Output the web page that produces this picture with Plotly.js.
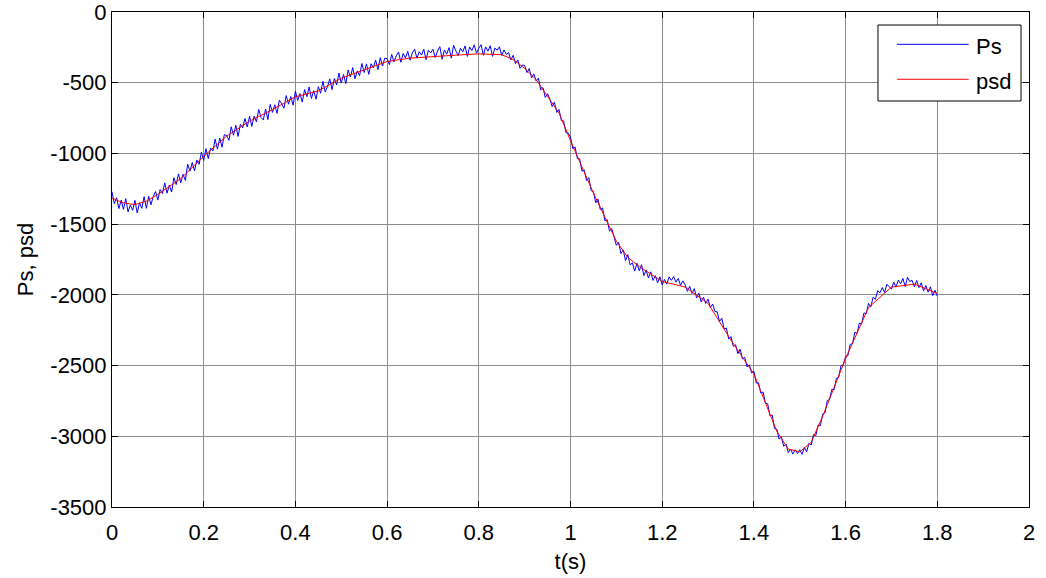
<!DOCTYPE html>
<html>
<head>
<meta charset="utf-8">
<script src="https://cdn.plot.ly/plotly-3.0.1.min.js"></script>
<style>html,body{margin:0;padding:0;background:#fff;}#chart{width:1046px;height:578px;}</style>
</head>
<body>
<div id="chart"></div>
<script>
// Ps: measured signal, sampled every 0.005 s from t = 0 to t = 1.8
const psStart = 0;
const psStep = 0.005;
const psValues = [
  -1271, -1355, -1313, -1390, -1331, -1396, -1320, -1413, -1365, -1402, -1332, -1421, -1348, -1388, -1306, -1388, -1303, -1363, -1303, -1269,
  -1330, -1255, -1284, -1208, -1281, -1225, -1273, -1172, -1220, -1144, -1208, -1147, -1191, -1076, -1125, -1064, -1123, -1047, -1077, -991,
  -1050, -966, -1037, -962, -983, -899, -970, -891, -956, -867, -873, -907, -812, -871, -801, -880, -794, -819, -753, -813,
  -737, -809, -736, -777, -689, -746, -763, -685, -761, -653, -710, -656, -717, -623, -649, -680, -591, -652, -598, -659,
  -560, -626, -577, -637, -548, -599, -530, -611, -556, -617, -528, -574, -490, -566, -527, -473, -549, -470, -516, -432,
  -503, -442, -506, -410, -459, -393, -472, -416, -450, -364, -428, -367, -441, -366, -395, -339, -408, -323, -382, -326,
  -330, -372, -300, -353, -310, -283, -355, -293, -325, -278, -341, -290, -263, -327, -281, -305, -263, -337, -271, -289,
  -263, -322, -276, -245, -334, -268, -298, -252, -326, -235, -275, -308, -257, -281, -240, -314, -248, -273, -232, -291,
  -256, -231, -306, -247, -277, -238, -314, -255, -270, -246, -307, -268, -300, -287, -339, -306, -365, -339, -398, -375,
  -378, -429, -400, -466, -437, -488, -467, -551, -535, -604, -578, -616, -669, -637, -710, -689, -767, -770, -853, -856,
  -885, -967, -954, -1036, -1038, -1125, -1117, -1194, -1171, -1263, -1270, -1349, -1323, -1397, -1386, -1475, -1469, -1548, -1532, -1596,
  -1650, -1629, -1708, -1682, -1759, -1715, -1788, -1774, -1832, -1777, -1830, -1787, -1864, -1825, -1881, -1837, -1898, -1864, -1914, -1872,
  -1930, -1890, -1924, -1873, -1897, -1871, -1910, -1884, -1933, -1901, -1930, -1975, -1940, -1990, -1956, -2022, -1988, -2050, -2017, -2061,
  -2030, -2090, -2065, -2117, -2120, -2188, -2165, -2240, -2236, -2313, -2295, -2364, -2353, -2416, -2384, -2453, -2442, -2510, -2494, -2552,
  -2540, -2623, -2621, -2694, -2687, -2765, -2770, -2855, -2850, -2945, -2950, -3020, -3005, -3070, -3055, -3115, -3090, -3126, -3095, -3122,
  -3095, -3128, -3080, -3110, -3050, -3062, -2987, -2995, -2920, -2925, -2843, -2835, -2748, -2740, -2668, -2671, -2589, -2582, -2500, -2495,
  -2435, -2430, -2350, -2345, -2265, -2272, -2200, -2205, -2128, -2133, -2060, -2085, -2017, -2032, -1970, -1985, -1948, -1983, -1925, -1942,
  -1960, -1910, -1945, -1895, -1922, -1884, -1942, -1876, -1906, -1897, -1944, -1898, -1949, -1915, -1972, -1934, -1981, -1943, -2005, -1967,
  -2010
];

// psd: reference (smooth) curve
const psdTime = [0, 0.025, 0.05, 0.075, 0.1, 0.15, 0.2, 0.25, 0.3, 0.35, 0.4, 0.45, 0.5, 0.55, 0.6, 0.65, 0.7, 0.75, 0.8, 0.85, 0.875, 0.9, 0.925, 0.95, 0.975, 1.0, 1.05, 1.1, 1.125, 1.15, 1.2, 1.25, 1.3, 1.35, 1.4, 1.45, 1.475, 1.5, 1.525, 1.55, 1.6, 1.65, 1.7, 1.75, 1.8];
const psdValues = [-1316, -1350, -1362, -1338, -1290, -1178, -1020, -878, -772, -690, -600, -558, -468, -408, -350, -326, -313, -305, -296, -302, -336, -398, -478, -598, -714, -910, -1280, -1620, -1735, -1800, -1905, -1945, -2060, -2320, -2560, -2965, -3090, -3110, -3042, -2858, -2450, -2090, -1945, -1924, -1990];

const seriesNames = ["Ps", "psd"];
const seriesColors = ["#0000ff", "#ff0000"];

const xTickVals = [0, 0.2, 0.4, 0.6, 0.8, 1, 1.2, 1.4, 1.6, 1.8, 2];
const xTickText = ["0", "0.2", "0.4", "0.6", "0.8", "1", "1.2", "1.4", "1.6", "1.8", "2"];
const yTickVals = [0, -500, -1000, -1500, -2000, -2500, -3000, -3500];
const yTickText = ["0", "-500", "-1000", "-1500", "-2000", "-2500", "-3000", "-3500"];

const psTime = psValues.map((_, i) => +(psStart + i * psStep).toFixed(4));

const FONT = "Liberation Sans, Arial, sans-serif";
const FS = 22;

const traces = [
  {x: psTime, y: psValues, type: 'scatter', mode: 'lines', name: seriesNames[0],
   line: {color: seriesColors[0], width: 1}},
  {x: psdTime, y: psdValues, type: 'scatter', mode: 'lines', name: seriesNames[1],
   line: {color: seriesColors[1], width: 1}}
];

const axisCommon = {
  showline: true, linecolor: '#000', linewidth: 1, mirror: 'ticks',
  ticks: 'inside', ticklen: 6, tickcolor: '#000', tickwidth: 1,
  showgrid: true, gridcolor: '#8c8c8c', gridwidth: 1, zeroline: false,
  ticklabeloverflow: 'allow',
  tickfont: {family: FONT, size: FS, color: '#000'}
};

// MATLAB-style legend box drawn in plot-area (paper) coordinates
const legBox = {x0: 0.8353, x1: 0.9913, y0: 0.8202, y1: 0.9737};
const legLineX = [0.8561, 0.9342];
const legLineY = [0.9347, 0.8641];
const legTextX = 0.9395;

const shapes = [
  {type: 'rect', xref: 'paper', yref: 'paper', x0: legBox.x0, x1: legBox.x1, y0: legBox.y0, y1: legBox.y1,
   line: {color: '#000', width: 1}, fillcolor: '#fff', layer: 'above'}
];
const annotations = [];
seriesNames.forEach((n, i) => {
  shapes.push({type: 'line', xref: 'paper', yref: 'paper', x0: legLineX[0], x1: legLineX[1],
    y0: legLineY[i], y1: legLineY[i], line: {color: seriesColors[i], width: 1}, layer: 'above'});
  annotations.push({xref: 'paper', yref: 'paper', x: legTextX, y: legLineY[i] - 0.004, text: n,
    showarrow: false, xanchor: 'left', yanchor: 'middle',
    font: {family: FONT, size: FS, color: '#000'}});
});

const layout = {
  width: 1046, height: 578,
  margin: {l: 112, r: 17, t: 12, b: 71},
  paper_bgcolor: '#fff', plot_bgcolor: '#fff',
  showlegend: false,
  shapes: shapes,
  annotations: annotations,
  xaxis: Object.assign({}, axisCommon, {
    range: [0, 2], tickvals: xTickVals, ticktext: xTickText, ticklabelstandoff: 6,
    title: {text: 't(s)', font: {family: FONT, size: FS, color: '#000'}, standoff: 9}
  }),
  yaxis: Object.assign({}, axisCommon, {
    range: [-3500, 0], tickvals: yTickVals, ticktext: yTickText,
    title: {text: 'Ps, psd', font: {family: FONT, size: FS, color: '#000'}, standoff: 10}
  })
};

Plotly.newPlot('chart', traces, layout, {displayModeBar: false, staticPlot: true});
</script>
</body>
</html>
